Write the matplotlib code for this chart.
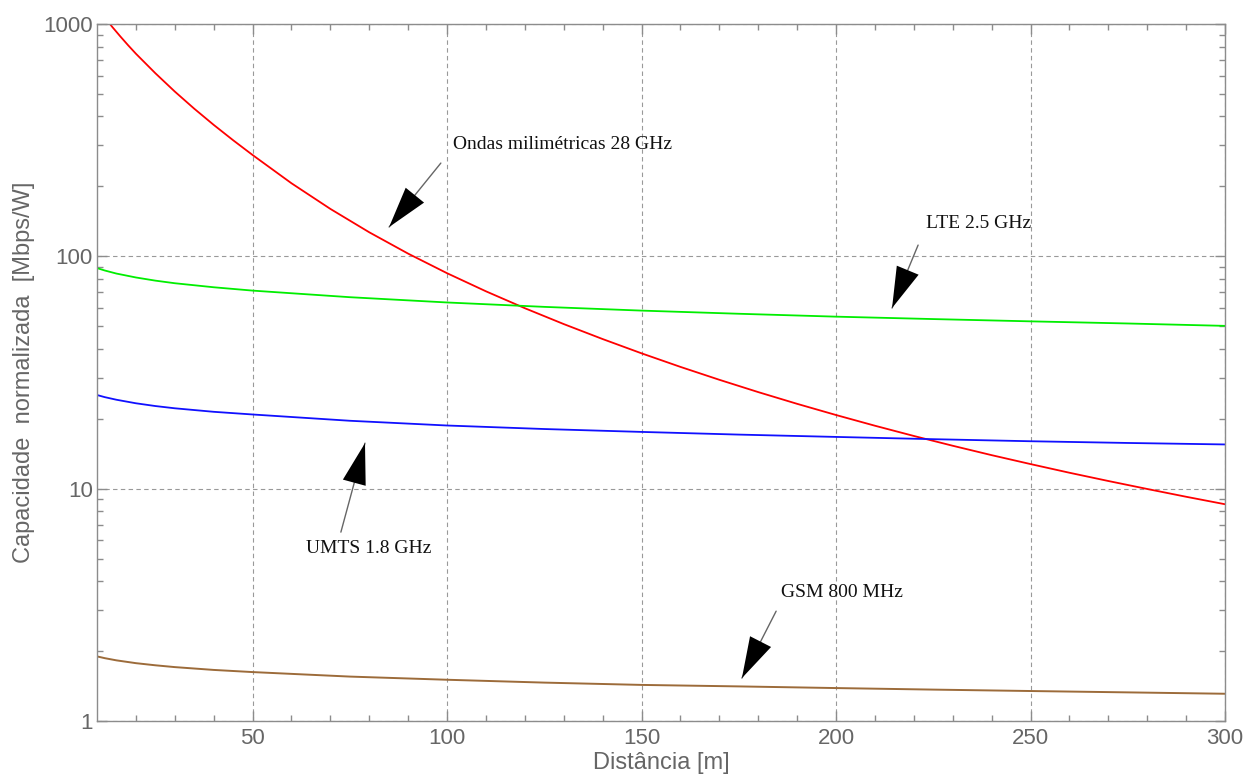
import matplotlib
matplotlib.use("Agg")
import matplotlib.pyplot as plt
from matplotlib.ticker import FixedLocator, NullFormatter, LogLocator

# distance [m] and normalised capacity [Mbps/W]
dist_mm = [10, 12, 14, 16, 18, 20, 25, 30, 35, 40, 45, 50, 60, 70, 80, 90, 100, 110,
           120, 130, 140, 150, 160, 170, 180, 190, 200, 210, 220, 230, 240, 250, 260,
           270, 280, 290, 300]
mmwave = [1180, 1066, 968, 884, 810, 745, 614, 512, 432, 368, 316, 273, 206.3, 160,
          126.9, 102.7, 84.6, 70.7, 59.8, 51.1, 44.05, 38.24, 33.43, 29.42, 26.04,
          23.18, 20.75, 18.66, 16.86, 15.30, 13.94, 12.76, 11.71, 10.79, 9.97, 9.23,
          8.57]

dist = [10, 12, 15, 20, 25, 30, 40, 50, 75, 100, 125, 150, 175, 200, 225, 250, 275, 300]
lte = [89, 86.9, 84.3, 81.1, 78.6, 76.6, 73.6, 71.2, 66.7, 63.3, 60.6, 58.4, 56.6,
       55.0, 53.7, 52.5, 51.4, 50.2]
umts = [25.3, 24.77, 24.14, 23.31, 22.68, 22.18, 21.42, 20.86, 19.6, 18.7, 18.06,
        17.55, 17.09, 16.7, 16.33, 16.0, 15.73, 15.5]
gsm = [1.897, 1.864, 1.824, 1.774, 1.737, 1.706, 1.659, 1.624, 1.553, 1.505, 1.463,
       1.430, 1.409, 1.386, 1.365, 1.346, 1.328, 1.31]

# label, arrow tip, arrow tail, text position, text alignment
notes = [
    ("Ondas milimétricas 28 GHz", (85.1, 133.7), (98.4, 252), (101.5, 304), "left"),
    ("LTE 2.5 GHz", (214.4, 59.9), (221.1, 111.8), (223.1, 139), "left"),
    ("UMTS 1.8 GHz", (78.9, 15.7), (72.7, 6.5), (79.9, 5.5), "center"),
    ("GSM 800 MHz", (175.8, 1.53), (184.6, 2.97), (185.9, 3.59), "left"),
]

frame_col = "#8c8c8c"
label_col = "#666666"

fig = plt.figure(figsize=(12.55, 7.82), dpi=100)
fig.subplots_adjust(left=97 / 1255, right=1225 / 1255, bottom=1 - 721 / 782, top=1 - 24 / 782)
ax = fig.add_subplot(111)

ax.plot(dist_mm, mmwave, color="#ff0000", lw=1.3)
ax.plot(dist, lte, color="#00ee00", lw=1.3)
ax.plot(dist, umts, color="#1010ff", lw=1.3)
ax.plot(dist, gsm, color="#9c6b3a", lw=1.4)

ax.set_yscale("log")
ax.set_xlim(10, 300)
ax.set_ylim(1, 1000)

ax.xaxis.set_major_locator(FixedLocator([50, 100, 150, 200, 250, 300]))
ax.xaxis.set_minor_locator(FixedLocator([v for v in range(20, 300, 10) if v % 50]))
ax.set_yticks([1, 10, 100, 1000])
ax.set_yticklabels(["1", "10", "100", "1000"])
ax.yaxis.set_minor_locator(LogLocator(base=10, subs=range(2, 10)))
ax.yaxis.set_minor_formatter(NullFormatter())

ax.grid(True, which="major", color="#999999", lw=0.8, linestyle=(0, (4, 3)))

for s in ax.spines.values():
    s.set_color(frame_col)
    s.set_linewidth(1.0)
ax.tick_params(which="both", direction="in", top=True, right=True, color=frame_col,
               labelcolor=label_col, labelsize=16, width=1.0)
ax.tick_params(which="major", length=7)
ax.tick_params(which="minor", length=4.5)
ax.tick_params(axis="x", pad=5)
ax.tick_params(axis="y", pad=3)

for tl in ax.get_xticklabels() + ax.get_yticklabels():
    tl.set_family(["Liberation Sans", "DejaVu Sans"])

ax.set_xlabel("Distância [m]", fontsize=17, color=label_col,
              family=["Liberation Sans", "DejaVu Sans"], labelpad=2)
ax.set_ylabel("Capacidade  normalizada  [Mbps/W]", fontsize=17, color=label_col,
              family=["Liberation Sans", "DejaVu Sans"], labelpad=6)

for text, tip, tail, pos, ha in notes:
    ax.annotate("", xy=tip, xytext=tail,
                arrowprops=dict(arrowstyle="-", color="#666666", lw=1.0,
                                shrinkA=0, shrinkB=0))
    ax.annotate("", xy=tip, xytext=tail,
                arrowprops=dict(arrowstyle="-|>,head_length=2.95,head_width=0.85",
                                mutation_scale=10, fc="black", ec="black", lw=0,
                                shrinkA=0, shrinkB=0))
    ax.text(pos[0], pos[1], text, ha=ha, va="center", fontsize=14, color="#111111",
            family=["Liberation Serif", "DejaVu Serif"])

fig.savefig("out.png", dpi=100)
